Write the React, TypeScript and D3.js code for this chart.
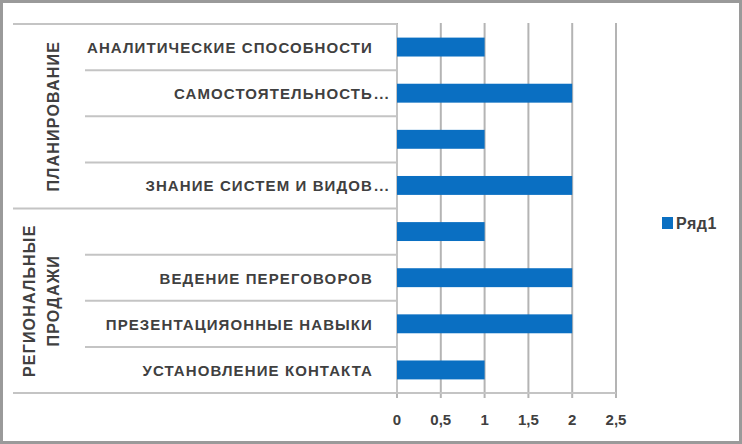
import React from "react";
import * as d3 from "d3";

const categories = [
  "АНАЛИТИЧЕСКИЕ СПОСОБНОСТИ",
  "САМОСТОЯТЕЛЬНОСТЬ...",
  "",
  "ЗНАНИЕ СИСТЕМ И ВИДОВ...",
  "",
  "ВЕДЕНИЕ ПЕРЕГОВОРОВ",
  "ПРЕЗЕНТАЦИЯОННЫЕ НАВЫКИ",
  "УСТАНОВЛЕНИЕ КОНТАКТА",
];
const values = [1, 2, 1, 2, 1, 2, 2, 1];
const groupNames = [["ПЛАНИРОВАНИЕ"], ["РЕГИОНАЛЬНЫЕ", "ПРОДАЖИ"]];
const groupSizes = [4, 4];
const xTicks = [0, 0.5, 1, 1.5, 2, 2.5];
const seriesName = "Ряд1";

const W = 742;
const H = 444;
const FONT = "'Liberation Sans', Arial, sans-serif";
const TEXT = "#404040";
const BLUE = "#0a6fc2";

export default function App() {
  const left = 397;
  const right = 616;
  const top = 24;
  const bottom = 393;
  const x = d3.scaleLinear().domain([0, 2.5]).range([left, right]);
  const idx = categories.map((_, i) => String(i));
  const rows = d3.scaleBand().domain(idx).range([top, bottom]).padding(0);
  const bars = d3
    .scaleBand()
    .domain(idx)
    .range([top, bottom])
    .paddingInner(0.59)
    .paddingOuter(0.295);
  const step = rows.step();
  const fmt = (d: number) => String(d).replace(".", ",");

  const groupStarts: number[] = [];
  let acc = 0;
  groupSizes.forEach((s) => {
    groupStarts.push(acc);
    acc += s;
  });

  const labelEnd = left - 20;
  const groupLeft = 13;
  const innerLeft = 85;

  return (
    <svg
      width={W}
      height={H}
      style={{ position: "absolute", left: 0, top: 0, background: "#fff" }}
    >
      <rect x={0} y={0} width={W} height={H} fill="#fff" />
      <rect
        x={1.5}
        y={1.5}
        width={W - 3}
        height={H - 3}
        fill="none"
        stroke="#9a9a9a"
        strokeWidth={3}
      />
      {xTicks.map((t) => (
        <line
          key={"g" + t}
          x1={x(t)}
          x2={x(t)}
          y1={top - 1}
          y2={bottom + 5}
          stroke="#b4b4b4"
          strokeWidth={2}
        />
      ))}
      <line x1={groupLeft} x2={right} y1={bottom} y2={bottom} stroke="#c4c4c4" strokeWidth={2} />
      {idx.map((k, i) => {
        if (i === 0) return null;
        const y = rows(k)!;
        const isGroup = groupStarts.includes(i);
        return (
          <line
            key={"s" + i}
            x1={isGroup ? groupLeft : innerLeft}
            x2={left}
            y1={y}
            y2={y}
            stroke="#c4c4c4"
            strokeWidth={2}
          />
        );
      })}
      <line x1={groupLeft} x2={left} y1={top} y2={top} stroke="#c4c4c4" strokeWidth={2} />
      <line x1={left} x2={left} y1={top} y2={bottom} stroke="#c4c4c4" strokeWidth={2} />
      {values.map((v, i) => (
        <rect
          key={"b" + i}
          x={x(0)}
          y={bars(String(i))!}
          width={x(v) - x(0)}
          height={bars.bandwidth()}
          fill={BLUE}
        />
      ))}
      {categories.map((c, i) => {
        if (!c) return null;
        const cy = rows(String(i))! + step / 2 + 6;
        const trunc = c.endsWith("...");
        const main = trunc ? c.slice(0, -3) : c;
        return (
          <g key={"l" + i} fontFamily={FONT} fontSize={15} fontWeight="bold" fill={TEXT} letterSpacing={1.1}>
            <text x={labelEnd - 4} y={cy} textAnchor="end">
              {main}
            </text>
            {trunc && (
              <text x={labelEnd - 3} y={cy} textAnchor="start">
                ...
              </text>
            )}
          </g>
        );
      })}
      {groupNames.map((lines, gi) => {
        const start = rows(String(groupStarts[gi]))!;
        const end = start + step * groupSizes[gi];
        const cy = (start + end) / 2;
        const lh = 24;
        const cx = lines.length > 1 ? 53 - lh / 2 : 53;
        return (
          <text
            key={"gr" + gi}
            transform={`translate(${cx}, ${cy}) rotate(-90)`}
            fontFamily={FONT}
            fontSize={16}
            fontWeight="bold"
            fill={TEXT}
            letterSpacing={1.2}
            textAnchor="middle"
          >
            {lines.map((ln, li) => (
              <tspan key={li} x={0} y={6 + (li - (lines.length - 1) / 2) * lh}>
                {ln}
              </tspan>
            ))}
          </text>
        );
      })}
      {xTicks.map((t) => (
        <text
          key={"t" + t}
          x={x(t)}
          y={425}
          textAnchor="middle"
          fontFamily={FONT}
          fontSize={15}
          fontWeight="bold"
          fill={TEXT}
        >
          {fmt(t)}
        </text>
      ))}
      <rect x={662} y={217} width={11} height={12} fill={BLUE} />
      <text x={676} y={229} fontFamily={FONT} fontSize={16} fontWeight="bold" fill={TEXT} letterSpacing={0.5}>
        {seriesName}
      </text>
    </svg>
  );
}
